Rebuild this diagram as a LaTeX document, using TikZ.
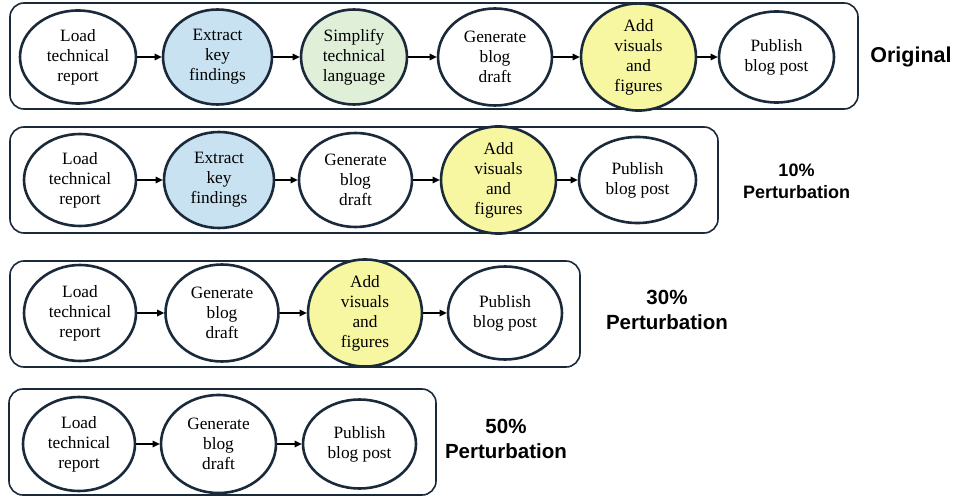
\documentclass[tikz,border=0pt]{standalone}
\usepackage{fontspec}
\setmainfont{Liberation Serif}
\newfontfamily\labelfont{Liberation Sans}
\usetikzlibrary{shapes.geometric,arrows.meta}
\definecolor{edgeblue}{HTML}{1B2A3A}
\definecolor{findblue}{HTML}{C9E2F1}
\definecolor{simpgreen}{HTML}{DFEFD8}
\definecolor{visyellow}{HTML}{F7F7A1}
\tikzset{task/.style={ellipse, draw=edgeblue, line width=2.6pt, fill=white, align=center, inner sep=0pt,
                      font=\fontsize{17.3}{20}\selectfont},
         sz/.style 2 args={minimum width=#1pt, minimum height=#2pt},
         row/.style={draw=edgeblue, line width=1.6pt, rounded corners=14pt},
         flow/.style={-{Triangle[length=7pt,width=6.5pt]}, line width=1.6pt, black},
         pert/.style 2 args={align=center, font=\labelfont\bfseries\fontsize{#1}{#2}\selectfont}}

\begin{document}
\begin{tikzpicture}[x=1pt,y=-1pt]
  \useasboundingbox (0,0) rectangle (955,497);
  % original
  \draw[row] (10,3) rectangle (858,109);
  \node[task,sz={116}{93}] (load1) at ( 78,57) {Load\\technical\\report};
  \node[task,sz={109}{95},fill=findblue] (find1) at (217.5,57) {Extract\\key\\findings};
  \node[task,sz={106}{95},fill=simpgreen] (simp1) at (354,57) {Simplify\\technical\\language};
  \node[task,sz={114}{97}] (draft1) at (495,57) {Generate\\blog\\draft};
  \node[task,sz={115}{103},fill=visyellow] (vis1) at (638.5,57) {Add\\visuals\\and\\figures};
  \node[task,sz={115}{91}] (post1) at (776.5,57) {Publish\\blog post};
  \draw[flow] (load1) -- (find1);
  \draw[flow] (find1) -- (simp1);
  \draw[flow] (simp1) -- (draft1);
  \draw[flow] (draft1) -- (vis1);
  \draw[flow] (vis1) -- (post1);
  \node[pert={21.5}{26}] (orig) at (911,57) {Original};
  % 10%
  \draw[row] (10,127) rectangle (718,233);
  \node[task,sz={112}{92}] (load2) at ( 80,180) {Load\\technical\\report};
  \node[task,sz={110}{96},fill=findblue] (find2) at (219,180) {Extract\\key\\findings};
  \node[task,sz={113}{94}] (draft2) at (355.5,180) {Generate\\blog\\draft};
  \node[task,sz={115}{100},fill=visyellow] (vis2) at (498.5,180) {Add\\visuals\\and\\figures};
  \node[task,sz={117}{86}] (post2) at (637.5,180) {Publish\\blog post};
  \draw[flow] (load2) -- (find2);
  \draw[flow] (find2) -- (draft2);
  \draw[flow] (draft2) -- (vis2);
  \draw[flow] (vis2) -- (post2);
  \node[pert={18}{22}] (ten) at (796.5,181) {10\%\\Perturbation};
  % 30%
  \draw[row] (10,261) rectangle (580,367);
  \node[task,sz={112}{96}] (load3) at ( 80,313) {Load\\technical\\report};
  \node[task,sz={113}{97}] (draft3) at (222,313) {Generate\\blog\\draft};
  \node[task,sz={114}{93},fill=visyellow] (vis3) at (365,313) {Add\\visuals\\and\\figures};
  \node[task,sz={114}{93}] (post3) at (505,313) {Publish\\blog post};
  \draw[flow] (load3) -- (draft3);
  \draw[flow] (draft3) -- (vis3);
  \draw[flow] (vis3) -- (post3);
  \node[pert={20.5}{25}] (thirty) at (667,310) {30\%\\Perturbation};
  % 50%
  \draw[row] (9,389) rectangle (436,495);
  \node[task,sz={112}{94}] (load4) at ( 79,444) {Load\\technical\\report};
  \node[task,sz={115}{98}] (draft4) at (218.5,444) {Generate\\blog\\draft};
  \node[task,sz={113}{89}] (post4) at (359.5,444) {Publish\\blog post};
  \draw[flow] (load4) -- (draft4);
  \draw[flow] (draft4) -- (post4);
  \node[pert={20.5}{25}] (fifty) at (506,439) {50\%\\Perturbation};
\end{tikzpicture}
\end{document}
